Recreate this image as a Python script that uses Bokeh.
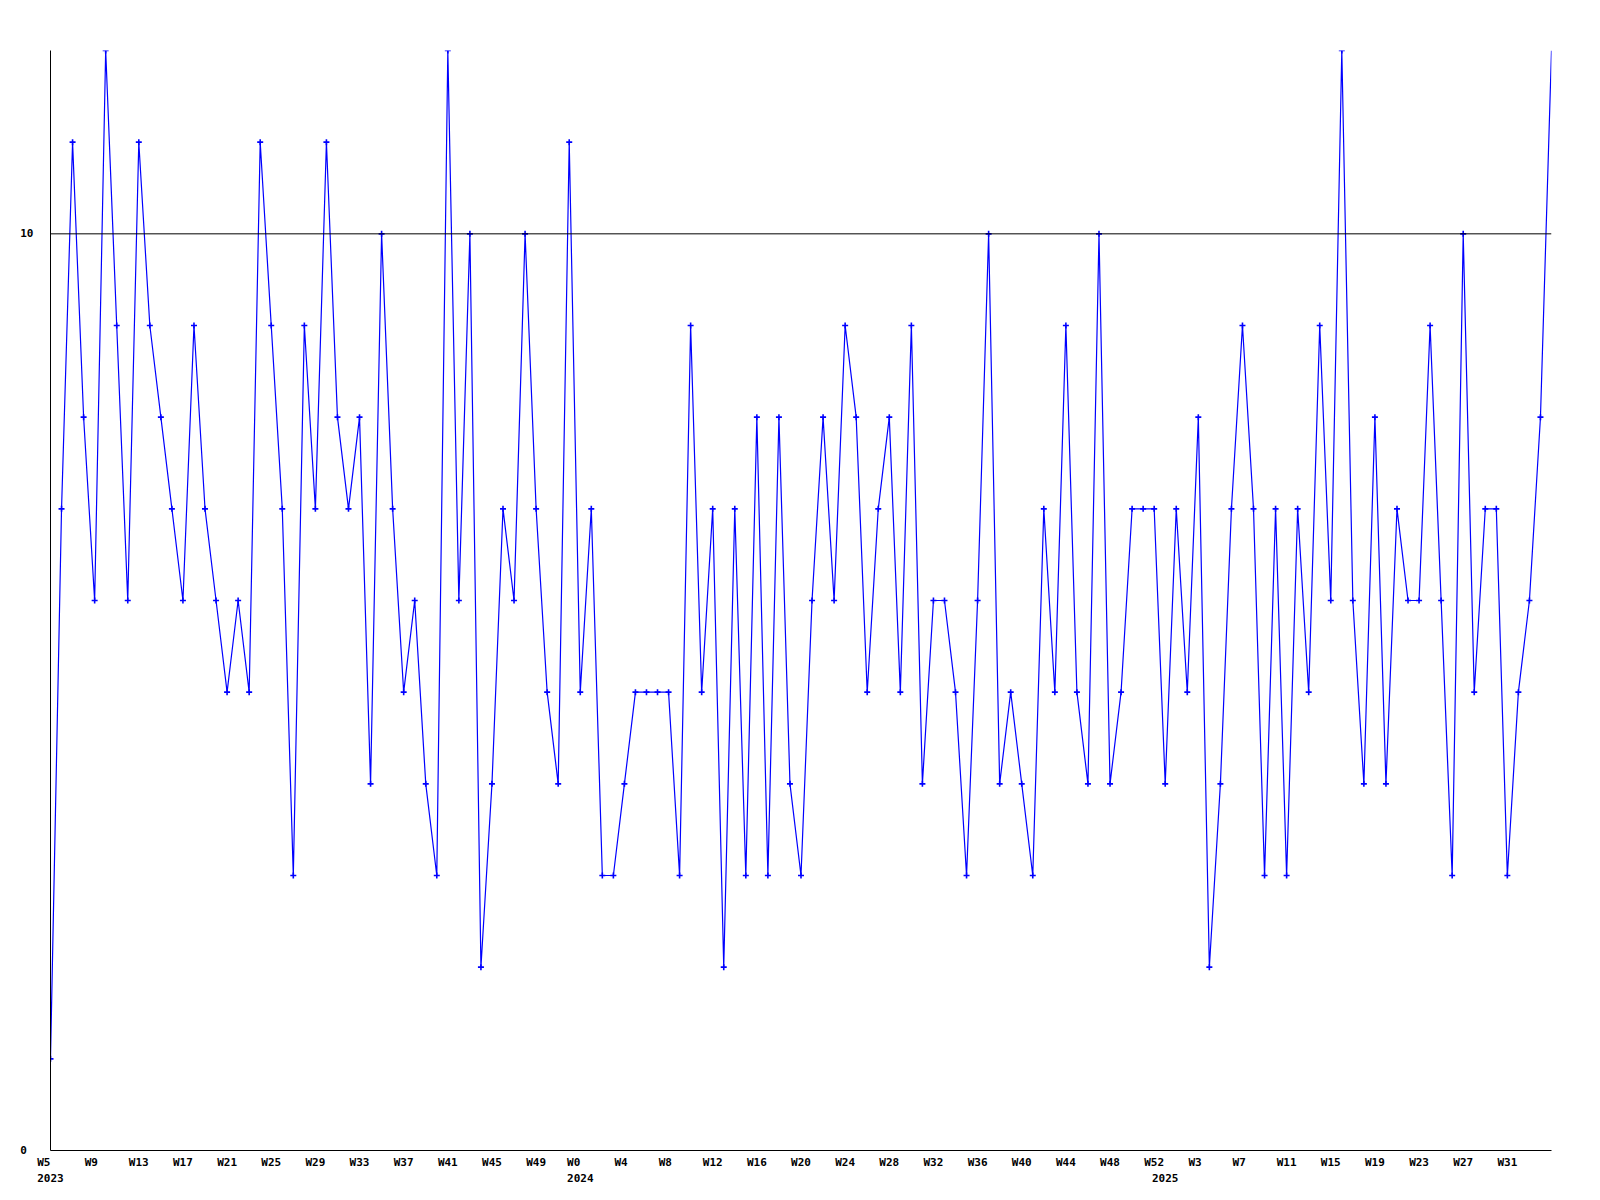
from bokeh.plotting import figure
from bokeh.models import FixedTicker, Span, Range1d
from bokeh.embed import file_html
from bokeh.resources import INLINE

# ---- data ----
years = [2023] * 48 + [2024] * 53 + [2025] * 36
weeks = list(range(5, 53)) + list(range(0, 53)) + list(range(0, 36))
values = [
    1, 7, 11, 8, 6, 12, 9, 6, 11, 9, 8, 7, 6, 9, 7, 6, 5, 6, 5, 11,
    9, 7, 3, 9, 7, 11, 8, 7, 8, 4, 10, 7, 5, 6, 4, 3, 12, 6, 10, 2,
    4, 7, 6, 10, 7, 5, 4, 11, 5, 7, 3, 3, 4, 5, 5, 5, 5, 3, 9, 5,
    7, 2, 7, 3, 8, 3, 8, 4, 3, 6, 8, 6, 9, 8, 5, 7, 8, 5, 9, 4,
    6, 6, 5, 3, 6, 10, 4, 5, 4, 3, 7, 5, 9, 5, 4, 10, 4, 5, 7, 7,
    7, 4, 7, 5, 8, 2, 4, 7, 9, 7, 3, 7, 3, 7, 5, 9, 6, 12, 6, 4,
    8, 4, 7, 6, 6, 9, 6, 3, 10, 5, 7, 7, 3, 5, 6, 8, 12,
]
y_ticks = [0, 10]
ref_level = 10

x = list(range(len(values)))
NB = "\u00a0"

# tick labels: every 4th week, year under first week of each year
year_starts = {}
for i, yr in enumerate(years):
    year_starts.setdefault(yr, i)
start_idx = {v: k for k, v in year_starts.items()}

tick_pos = [i for i in range(0, len(values) - 1, 4)]
overrides = {}
for i in tick_pos:
    w = f"W{weeks[i]}"
    if i in start_idx:
        overrides[i] = w.ljust(4, NB) + "\n" + str(start_idx[i])
    else:
        overrides[i] = w.ljust(3, NB)
for i, yr in start_idx.items():
    if i not in overrides:
        overrides[i] = NB + "\n" + str(yr)
all_ticks = sorted(overrides.keys())

p = figure(width=1592, height=1192, output_backend="svg", toolbar_location=None,
           x_range=Range1d(0, len(values) - 1), y_range=Range1d(0, 12),
           min_border_left=50, min_border_right=41, min_border_top=50, min_border_bottom=42)
p.outline_line_color = None
p.xgrid.visible = False
p.ygrid.visible = False
p.background_fill_color = "white"
p.border_fill_color = "white"

p.add_layout(Span(location=ref_level, dimension="width", line_color="black", line_width=1))

p.line(x, values, line_color="#0000ff", line_width=1.2)
p.scatter(x[:-1], values[:-1], marker="cross", size=6, line_color="#0000ff", line_width=1.6)

font = "DejaVu Sans Mono"
for ax in (p.xaxis[0], p.yaxis[0]):
    ax.axis_line_color = "black"
    ax.axis_line_width = 1
    ax.major_tick_in = 0
    ax.major_tick_out = 0
    ax.minor_tick_in = 0
    ax.minor_tick_out = 0
    ax.major_label_text_font = font
    ax.major_label_text_font_style = "bold"
    ax.major_label_text_font_size = "11px"
    ax.major_label_text_color = "black"

p.xaxis[0].ticker = FixedTicker(ticks=all_ticks, minor_ticks=[])
p.xaxis[0].major_label_overrides = overrides
p.xaxis[0].major_label_standoff = 5
p.xaxis[0].major_label_text_line_height = 1.3

p.yaxis[0].ticker = FixedTicker(ticks=y_ticks, minor_ticks=[])
p.yaxis[0].major_label_overrides = {t: str(t).ljust(2, NB) for t in y_ticks}
p.yaxis[0].major_label_standoff = 17

open("out.html", "w").write(file_html(p, INLINE))
